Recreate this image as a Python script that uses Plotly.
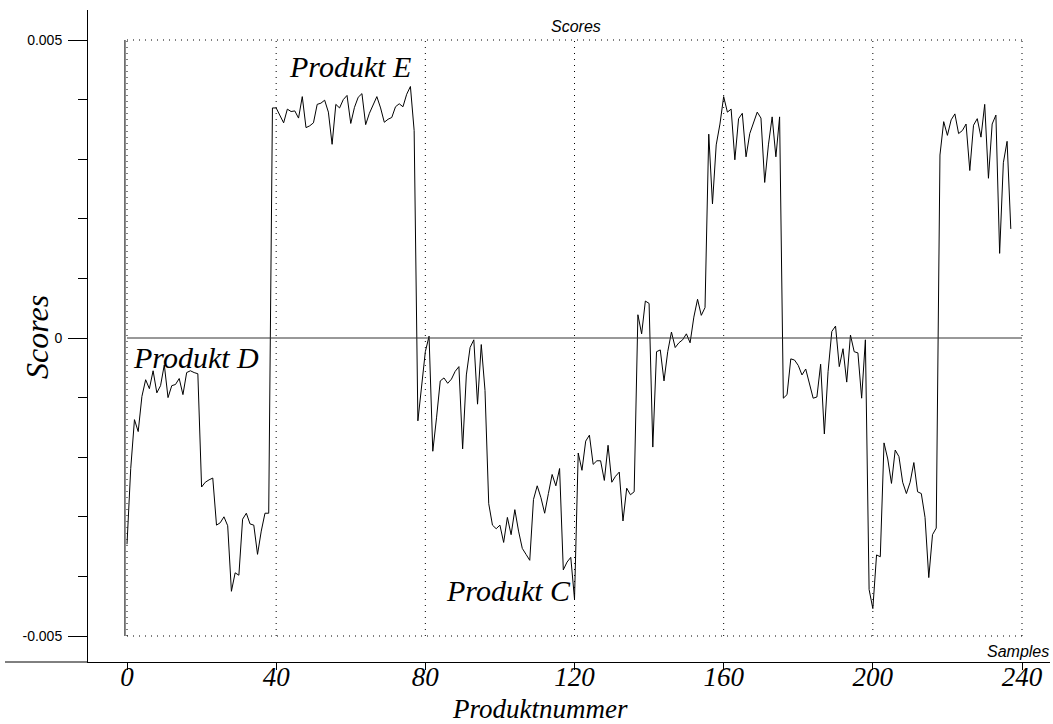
import plotly.graph_objects as go

# ---------------- data (scores in units of 1e-3) ----------------
scores_e3 = [
    # 0-38
    -3.46, -2.19, -1.37, -1.57, -0.98, -0.70, -0.85, -0.55, -0.92, -0.80,
    -0.45, -1.00, -0.80, -0.78, -0.68, -0.95, -0.58, -0.55, -0.58, -0.60,
    -2.50, -2.42, -2.38, -2.35, -3.14, -3.10, -3.00, -3.15, -4.25, -3.94,
    -3.98, -3.04, -2.94, -3.12, -3.14, -3.63, -3.24, -2.94, -2.94,
    # 39-77
    3.86, 3.86, 3.72, 3.61, 3.84, 3.80, 3.81, 3.69, 4.05, 3.53,
    3.56, 3.61, 3.92, 3.94, 3.99, 3.79, 3.25, 3.92, 3.86, 4.00,
    4.07, 3.60, 3.87, 4.04, 4.10, 3.58, 3.77, 3.90, 4.05, 3.86,
    3.62, 3.67, 3.70, 3.88, 3.93, 3.88, 4.09, 4.22, 3.48,
    # 78-120
    -1.39, -0.82, -0.23, 0.03, -1.90, -1.34, -0.72, -0.67, -0.76, -0.69,
    -0.56, -0.48, -1.86, -0.62, -0.16, -0.03, -1.11, -0.11, -0.88, -2.78,
    -3.14, -3.20, -3.14, -3.43, -3.01, -3.30, -2.88, -3.24, -3.53, -3.63,
    -3.73, -2.71, -2.48, -2.68, -2.94, -2.61, -2.29, -2.48, -2.19, -3.89,
    -3.76, -3.68, -4.38,
    # 121-160
    -1.93, -2.22, -1.73, -1.63, -2.12, -2.06, -2.06, -2.39, -1.80, -2.42,
    -2.32, -2.25, -3.07, -2.52, -2.63, -2.58, 0.39, 0.07, 0.62, 0.58,
    -1.83, -0.23, -0.20, -0.72, -0.23, 0.10, -0.16, -0.08, -0.03, 0.07,
    -0.08, 0.35, 0.65, 0.38, 0.51, 3.42, 2.25, 3.24, 3.59, 4.05,
    # 161-203
    3.79, 3.84, 2.99, 3.68, 3.77, 3.04, 3.43, 3.63, 3.79, 3.69,
    2.61, 3.24, 3.71, 3.04, 3.71, -1.01, -0.95, -0.35, -0.37, -0.46,
    -0.62, -0.52, -0.78, -1.01, -0.99, -0.44, -1.61, -0.56, 0.11, 0.20,
    -0.48, -0.18, -0.74, 0.05, -0.23, -0.25, -1.01, -0.03, -4.22, -4.54,
    -3.64, -3.67, -1.76,
    # 204-237
    -2.03, -2.44, -1.88, -1.99, -2.42, -2.61, -2.42, -2.09, -2.58, -2.61,
    -3.01, -4.02, -3.30, -3.19, 3.07, 3.63, 3.40, 3.66, 3.76, 3.43,
    3.48, 3.59, 2.81, 3.57, 3.68, 3.37, 3.92, 2.68, 3.59, 3.74,
    1.42, 2.94, 3.30, 1.83,
]
scores = [v / 1000.0 for v in scores_e3]
samples = list(range(len(scores)))

x_tickvals = [0, 40, 80, 120, 160, 200, 240]
x_ticktext = ["0", "40", "80", "120", "160", "200", "240"]
y_tickvals = [-0.005, 0, 0.005]
y_ticktext = ["-0.005", "0", "0.005"]

labels = [("Produkt D", 18.5, -0.00032), ("Produkt E", 59.8, 0.00456), ("Produkt C", 102.4, -0.00423)]

# ---------------- geometry (pixels) ----------------
W, H = 1053, 724
L, R, T, B = 88, 1050, 10, 662
px0, px240 = 127, 1022
sx = (px240 - px0) / 240.0
py_top, py_bot = 40, 636
sy = (py_bot - py_top) / 0.01
y0pix = (py_top + py_bot) / 2.0
xr = [(L - px0) / sx, (R - px0) / sx]
yr = [-(B - y0pix) / sy, (y0pix - T) / sy]


def paper_x(px):
    return (px - L) / (R - L)


def paper_y(py):
    return (B - py) / (B - T)


SERIF = "Liberation Serif, Times New Roman, serif"
SANS = "Liberation Sans, Arial, sans-serif"

fig = go.Figure()
fig.add_trace(go.Scatter(x=samples, y=scores, mode="lines",
                         line=dict(color="black", width=1), hoverinfo="skip",
                         showlegend=False))

shapes = []
dot = "1px,5px"
for xv in x_tickvals:
    shapes.append(dict(type="line", xref="x", yref="y", x0=xv, x1=xv,
                       y0=-0.005, y1=0.005,
                       line=dict(color="black", width=1, dash=dot)))
for yv in (-0.005, 0.005):
    shapes.append(dict(type="line", xref="x", yref="y", x0=0, x1=240,
                       y0=yv, y1=yv, line=dict(color="black", width=1, dash=dot)))
shapes.append(dict(type="line", xref="x", yref="y", x0=0, x1=240, y0=0, y1=0,
                   line=dict(color="#333333", width=1)))
shapes.append(dict(type="line", xref="x", yref="y", x0=-0.55, x1=-0.55,
                   y0=-0.005, y1=0.005, line=dict(color="black", width=1)))
shapes.append(dict(type="line", xref="paper", yref="paper",
                   x0=paper_x(5), x1=0, y0=0, y1=0,
                   line=dict(color="black", width=1)))

annotations = []
for text, xv, yv in labels:
    annotations.append(dict(text=text, x=xv, y=yv, xref="x", yref="y",
                            xanchor="center", yanchor="middle", showarrow=False,
                            font=dict(family=SERIF, size=30, color="black", style="italic")))
annotations += [
    dict(text="Scores", x=paper_x(576), y=paper_y(27), xref="paper", yref="paper",
         xanchor="center", yanchor="middle", showarrow=False,
         font=dict(family=SANS, size=16, color="black", style="italic")),
    dict(text="Samples", x=paper_x(1051), y=paper_y(651), xref="paper", yref="paper",
         xanchor="right", yanchor="middle", showarrow=False,
         font=dict(family=SANS, size=16, color="black", style="italic")),
    dict(text="Produktnummer", x=paper_x(540), y=paper_y(709), xref="paper", yref="paper",
         xanchor="center", yanchor="middle", showarrow=False,
         font=dict(family=SERIF, size=27, color="black", style="italic")),
    dict(text="Scores", x=paper_x(37), y=paper_y(337), xref="paper", yref="paper",
         xanchor="center", yanchor="middle", textangle=-90, showarrow=False,
         font=dict(family=SERIF, size=32, color="black", style="italic")),
]

fig.update_layout(
    width=W, height=H,
    margin=dict(l=L, r=W - R, t=T, b=H - B, pad=0),
    paper_bgcolor="white", plot_bgcolor="white",
    showlegend=False,
    shapes=shapes, annotations=annotations,
    xaxis=dict(range=xr, showline=True, linecolor="black", linewidth=1,
               showgrid=False, zeroline=False, ticks="outside", ticklen=7,
               tickcolor="black", tickwidth=1,
               tickvals=x_tickvals, ticktext=x_ticktext, ticklabelstandoff=-16,
               tickfont=dict(family=SERIF, size=27, color="black", style="italic")),
    yaxis=dict(range=yr, showline=True, linecolor="black", linewidth=1,
               showgrid=False, zeroline=False, ticks="outside", ticklen=19,
               tickcolor="black", tickwidth=1,
               tickvals=y_tickvals, ticktext=y_ticktext, ticklabelstandoff=3,
               tickfont=dict(family=SANS, size=14, color="black"),
               minor=dict(ticks="outside", ticklen=9, tickcolor="black",
                          tickwidth=1, dtick=0.001, tick0=0, showgrid=False)),
)

fig.write_html("out.html")
